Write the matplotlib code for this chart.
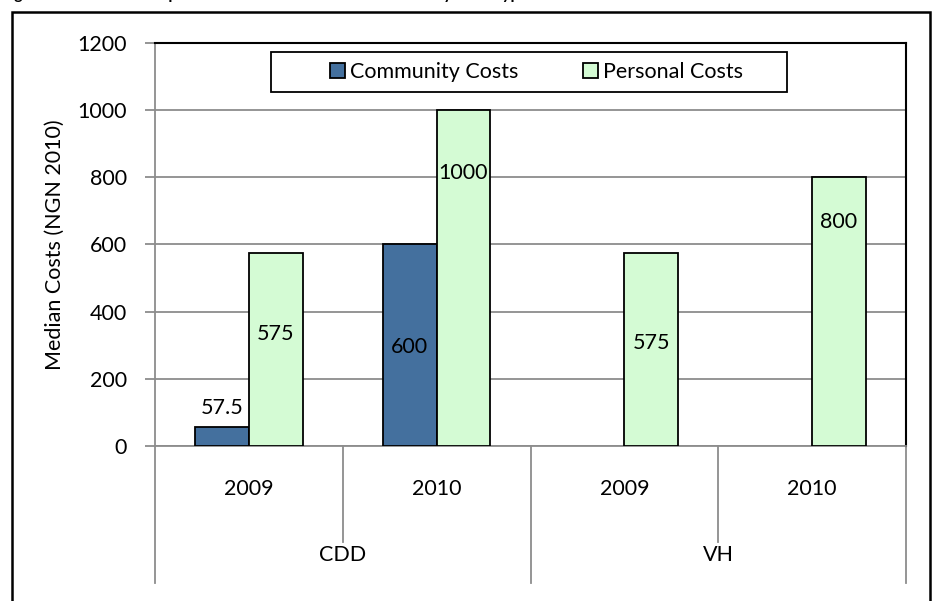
import numpy as np
import matplotlib.pyplot as plt
from matplotlib.patches import Rectangle

# data
groups = ["CDD", "VH"]
years = ["2009", "2010", "2009", "2010"]
community = [57.5, 600, np.nan, np.nan]   # no community bar for VH
personal = [575, 1000, 575, 800]
community_labels = ["57.5", "600", "", ""]
personal_labels = ["575", "1000", "575", "800"]
# vertical spot (data units) of each value label, as placed in the original
community_label_y = [113, 295, 0, 0]
personal_label_y = [333, 812, 306, 667]

blue = "#44709e"
green = "#d4fbd4"
grid_grey = "#8c8c8c"
fs = 15.5

plt.rcParams['font.family'] = ['Lato', 'DejaVu Sans']

fig = plt.figure(figsize=(9.37, 6.01), dpi=100)
ax = fig.add_axes([155/937, (601-446)/601, (906-155)/937, (446-43)/601])

x = np.arange(len(years)) + 0.5
w = 2/7
ax.bar(x - w/2, community, w, color=blue, edgecolor='black', linewidth=1.3,
       label='Community Costs', zorder=3)
ax.bar(x + w/2, personal, w, color=green, edgecolor='black', linewidth=1.3,
       label='Personal Costs', zorder=3)

for i in range(len(years)):
    if community_labels[i]:
        ax.text(x[i] - w/2, community_label_y[i], community_labels[i],
                ha='center', va='center', fontsize=fs, zorder=4)
    ax.text(x[i] + w/2, personal_label_y[i], personal_labels[i],
            ha='center', va='center', fontsize=fs, zorder=4)

ax.set_xlim(0, len(years))
ax.set_ylim(0, 1200)
ax.set_yticks(range(0, 1201, 200))
ax.yaxis.grid(True, color=grid_grey, linewidth=1.3, zorder=0)
ax.tick_params(axis='y', labelsize=fs, length=7, color=grid_grey, width=1.3, pad=13)
ax.set_xticks([])
ax.set_ylabel("Median Costs (NGN 2010)", fontsize=fs, labelpad=9)

for s in ['top', 'right']:
    ax.spines[s].set_color('black')
    ax.spines[s].set_linewidth(1.5)
for s in ['left', 'bottom']:
    ax.spines[s].set_color(grid_grey)
    ax.spines[s].set_linewidth(1.3)

# two-level category axis
trans = ax.get_xaxis_transform()
for i in range(len(years) + 1):
    bottom = -0.34 if i % 2 == 0 else -0.238
    ax.plot([i, i], [0, bottom], color=grid_grey, linewidth=1.3,
            transform=trans, clip_on=False)
for i, yr in enumerate(years):
    ax.text(x[i], -0.107, yr, transform=trans, ha='center', va='center', fontsize=fs)
for j, g in enumerate(groups):
    ax.text(2*j + 1, -0.27, g, transform=trans, ha='center', va='center', fontsize=fs)

# legend box drawn separately (wider padding than matplotlib's frame gives)
ax.add_patch(Rectangle((0.1545, 0.878), 0.687, 0.0995, transform=ax.transAxes,
                       facecolor='white', edgecolor='black', linewidth=1.3,
                       zorder=5, clip_on=False))
leg = ax.legend(loc='center', bbox_to_anchor=(0.508, 0.928), ncol=2,
                fontsize=fs, frameon=False,
                handlelength=0.7, handleheight=0.7, handletextpad=0.25,
                columnspacing=3.0, borderpad=0.2, borderaxespad=0)
leg.set_zorder(6)

# outer chart frame, running off the bottom of the picture
fig.patches.append(Rectangle((12/937, -0.05), (930-12)/937, 1.05 - 12/601,
                             transform=fig.transFigure, fill=False,
                             edgecolor='black', linewidth=1.8))

# caption that is cut off at the top edge of the picture (only descenders show)
fig.text(1/937, 1 + 1/601, "Figure 5: Median Costs per Household in CDD and VH Areas by Cost Type",
         ha='left', va='baseline', fontsize=11.5, fontweight='bold')

fig.savefig('out.png', dpi=100)
